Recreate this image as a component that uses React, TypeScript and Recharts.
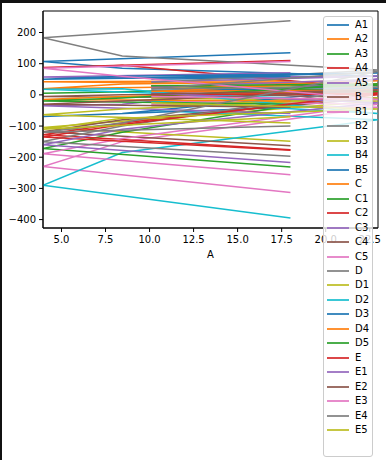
import React from 'react';
import { LineChart, Line, XAxis, YAxis, ReferenceArea } from 'recharts';

// column A (x), rows in their original order
const colA = [18.0, 3.95, 8.45, 22.95, 10.1];

const A1 = [135, 107, 85, 60, 50];
const A2 = [45, 42, 40, 35, 38];
const A3 = [20, 5, 10, 30, 28];
const A4 = [110, 88, 95, 20, 10];
const A5 = [71, 57, 55, 60, 42];
const B = [-10, -5, 0, 10, 3];
const B1 = [-313, -230, -150, -40, -30];
const B2 = [238, 183, 125, 80, 40];
const B3 = [-149, -105, -85, -20, -10];
const B4 = [-395, -290, -185, -80, -50];
const B5 = [-40, -69, -60, 20, 15];
const C = [30, 20, 35, 45, 10];
const C1 = [-231, -172, -120, 10, 29];
const C2 = [-176, -128, -90, 0, 5];
const C3 = [-60, -35, -30, 50, 25];
const C4 = [-163, -118, -80, -10, 8];
const C5 = [-256, -189, -140, -30, -20];
const D = [-197, -150, -100, 25, 20];
const D1 = [-90, -64, -45, -10, -35];
const D2 = [-10, 18, 20, -60, -20];
const D3 = [60, 50, 60, 70, 55];
const D4 = [-20, -15, -5, 15, 12];
const D5 = [-30, -20, -10, 35, 29];
const E = [-178, -135, -95, 5, 0];
const E1 = [-217, -160, -110, -25, 5];
const E2 = [-40, -30, -20, 15, 3];
const E3 = [107, 85, 60, -15, -5];
const E4 = [-100, -120, -90, 75, 20];
const E5 = [-70, -110, -75, -45, -25];

const seriesNames = ['A1', 'A2', 'A3', 'A4', 'A5', 'B', 'B1', 'B2', 'B3', 'B4', 'B5', 'C', 'C1', 'C2', 'C3', 'C4', 'C5', 'D', 'D1', 'D2', 'D3', 'D4', 'D5', 'E', 'E1', 'E2', 'E3', 'E4', 'E5'];
const seriesValues = [A1, A2, A3, A4, A5, B, B1, B2, B3, B4, B5, C, C1, C2, C3, C4, C5, D, D1, D2, D3, D4, D5, E, E1, E2, E3, E4, E5];

const xTicks = [5, 7.5, 10, 12.5, 15, 17.5, 20, 22.5];
const yTicks = [-400, -300, -200, -100, 0, 100, 200];

const tab10 = ['#1f77b4', '#ff7f0e', '#2ca02c', '#d62728', '#9467bd', '#8c564b', '#e377c2', '#7f7f7f', '#bcbd22', '#17becf'];

const rows = colA.map((a, i) => {
  const row: Record<string, number> = { A: a };
  seriesNames.forEach((name, s) => { row[name] = seriesValues[s][i]; });
  return row;
});

const font = 'DejaVu Sans, sans-serif';
const tickStyle = { fontSize: 10, fill: '#000', fontFamily: font };
const fmtY = (v: number) => (v < 0 ? `\u2212${Math.abs(v)}` : `${v}`);

export default function App() {
  return (
    <div style={{ position: 'absolute', left: 0, top: 0, width: 386, height: 460, background: '#fff', fontFamily: font }}>
      <div style={{ position: 'absolute', left: 0, top: 0, width: 386, height: 3, background: '#111' }} />
      <div style={{ position: 'absolute', left: 0, top: 0, width: 2, height: 460, background: '#111' }} />
      <div style={{ position: 'absolute', left: 0, top: 0 }}>
        <LineChart width={386} height={262} data={rows} margin={{ top: 11, right: 8, left: 0, bottom: 0 }}>
          <XAxis
            type="number"
            dataKey="A"
            domain={[3.95, 22.97]}
            allowDataOverflow
            ticks={xTicks}
            tickFormatter={(v: number) => v.toFixed(1)}
            tick={tickStyle}
            tickSize={4}
            tickMargin={4}
            stroke="#000"
            height={34}
            label={{ value: 'A', position: 'insideBottom', offset: 4, fontSize: 10, fill: '#000', fontFamily: font }}
          />
          <YAxis
            type="number"
            domain={[-427, 269]}
            allowDataOverflow
            ticks={yTicks}
            tickFormatter={fmtY}
            tick={tickStyle}
            tickSize={4}
            tickMargin={3}
            stroke="#000"
            width={43}
          />
          {seriesNames.map((name, s) => (
            <Line
              key={name}
              type="linear"
              dataKey={name}
              stroke={tab10[s % 10]}
              strokeWidth={1.5}
              dot={false}
              activeDot={false}
              isAnimationActive={false}
            />
          ))}
          <ReferenceArea x1={3.95} x2={22.97} y1={-427} y2={269} fill="none" fillOpacity={0} stroke="#000" strokeWidth={1} ifOverflow="visible" />
        </LineChart>
      </div>
      <div
        style={{
          position: 'absolute',
          left: 323,
          top: 16,
          width: 50,
          height: 441,
          boxSizing: 'border-box',
          border: '1px solid #ccc',
          borderRadius: 3,
          background: 'rgba(255,255,255,0.8)',
        }}
      >
        {seriesNames.map((name, s) => (
          <div key={name} style={{ position: 'absolute', left: 0, top: Math.round(1 + s * 14.47), height: 14, width: 48 }}>
            <div style={{ position: 'absolute', left: 3, top: 6, width: 22, height: 2, background: tab10[s % 10], opacity: 0.85 }} />
            <span style={{ position: 'absolute', left: 31, top: 1, fontSize: 10, lineHeight: '12px', color: '#000' }}>{name}</span>
          </div>
        ))}
      </div>
    </div>
  );
}
